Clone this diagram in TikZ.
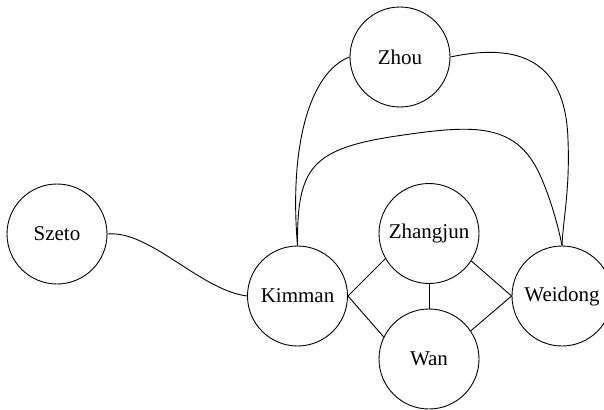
\documentclass[tikz,border=0pt]{standalone}
\usepackage{fontspec}
\setmainfont{Liberation Serif}
\begin{document}
\begin{tikzpicture}[x=1pt, y=-1pt,
        person/.style={circle, draw, line width=0.9pt, minimum size=100pt, inner sep=0pt,
            font=\fontsize{21}{25}\selectfont},
        tie/.style={line width=0.9pt}]
        \useasboundingbox (0,0) rectangle (604,409);
        % Nodes
        \node[person] (Zhou) at (400, 57) {Zhou};
        \node[person] (Szeto) at (57, 234) {Szeto};
        \node[person] (Kimman) at (297.5, 296) {Kimman};
        \node[person] (Zhangjun) at (429, 233.5) {Zhangjun};
        \node[person] (Wan) at (429, 359) {Wan};
        \node[person] (Weidong) at (562, 296) {Weidong};

        % Edges
        \draw[tie] (Szeto.east) .. controls (150, 230) and (200, 290) .. (Kimman.west);
        \draw[tie] (Zhou.west) .. controls (310, 72) and (289, 145) .. (Kimman.north);
        \draw[tie] (Zhou.east) .. controls (530, 40) and (566, 70) .. (568, 140)
            .. controls (570, 190) and (563, 220) .. (Weidong.north);
        \draw[tie] (Kimman.north) .. controls (297, 170) and (310, 150) .. (390, 137)
            .. controls (470, 125) and (515, 120) .. (540, 175)
            .. controls (550, 197) and (558, 225) .. (Weidong.north);
        \draw[tie] (Kimman.east) -- (Zhangjun.210);
        \draw[tie] (Kimman.east) -- (Wan.154);
        \draw[tie] (Zhangjun.south) -- (Wan.north);
        \draw[tie] (Zhangjun.-33) -- (Weidong.west);
        \draw[tie] (Wan.34) -- (Weidong.west);
    \end{tikzpicture}
\end{document}
